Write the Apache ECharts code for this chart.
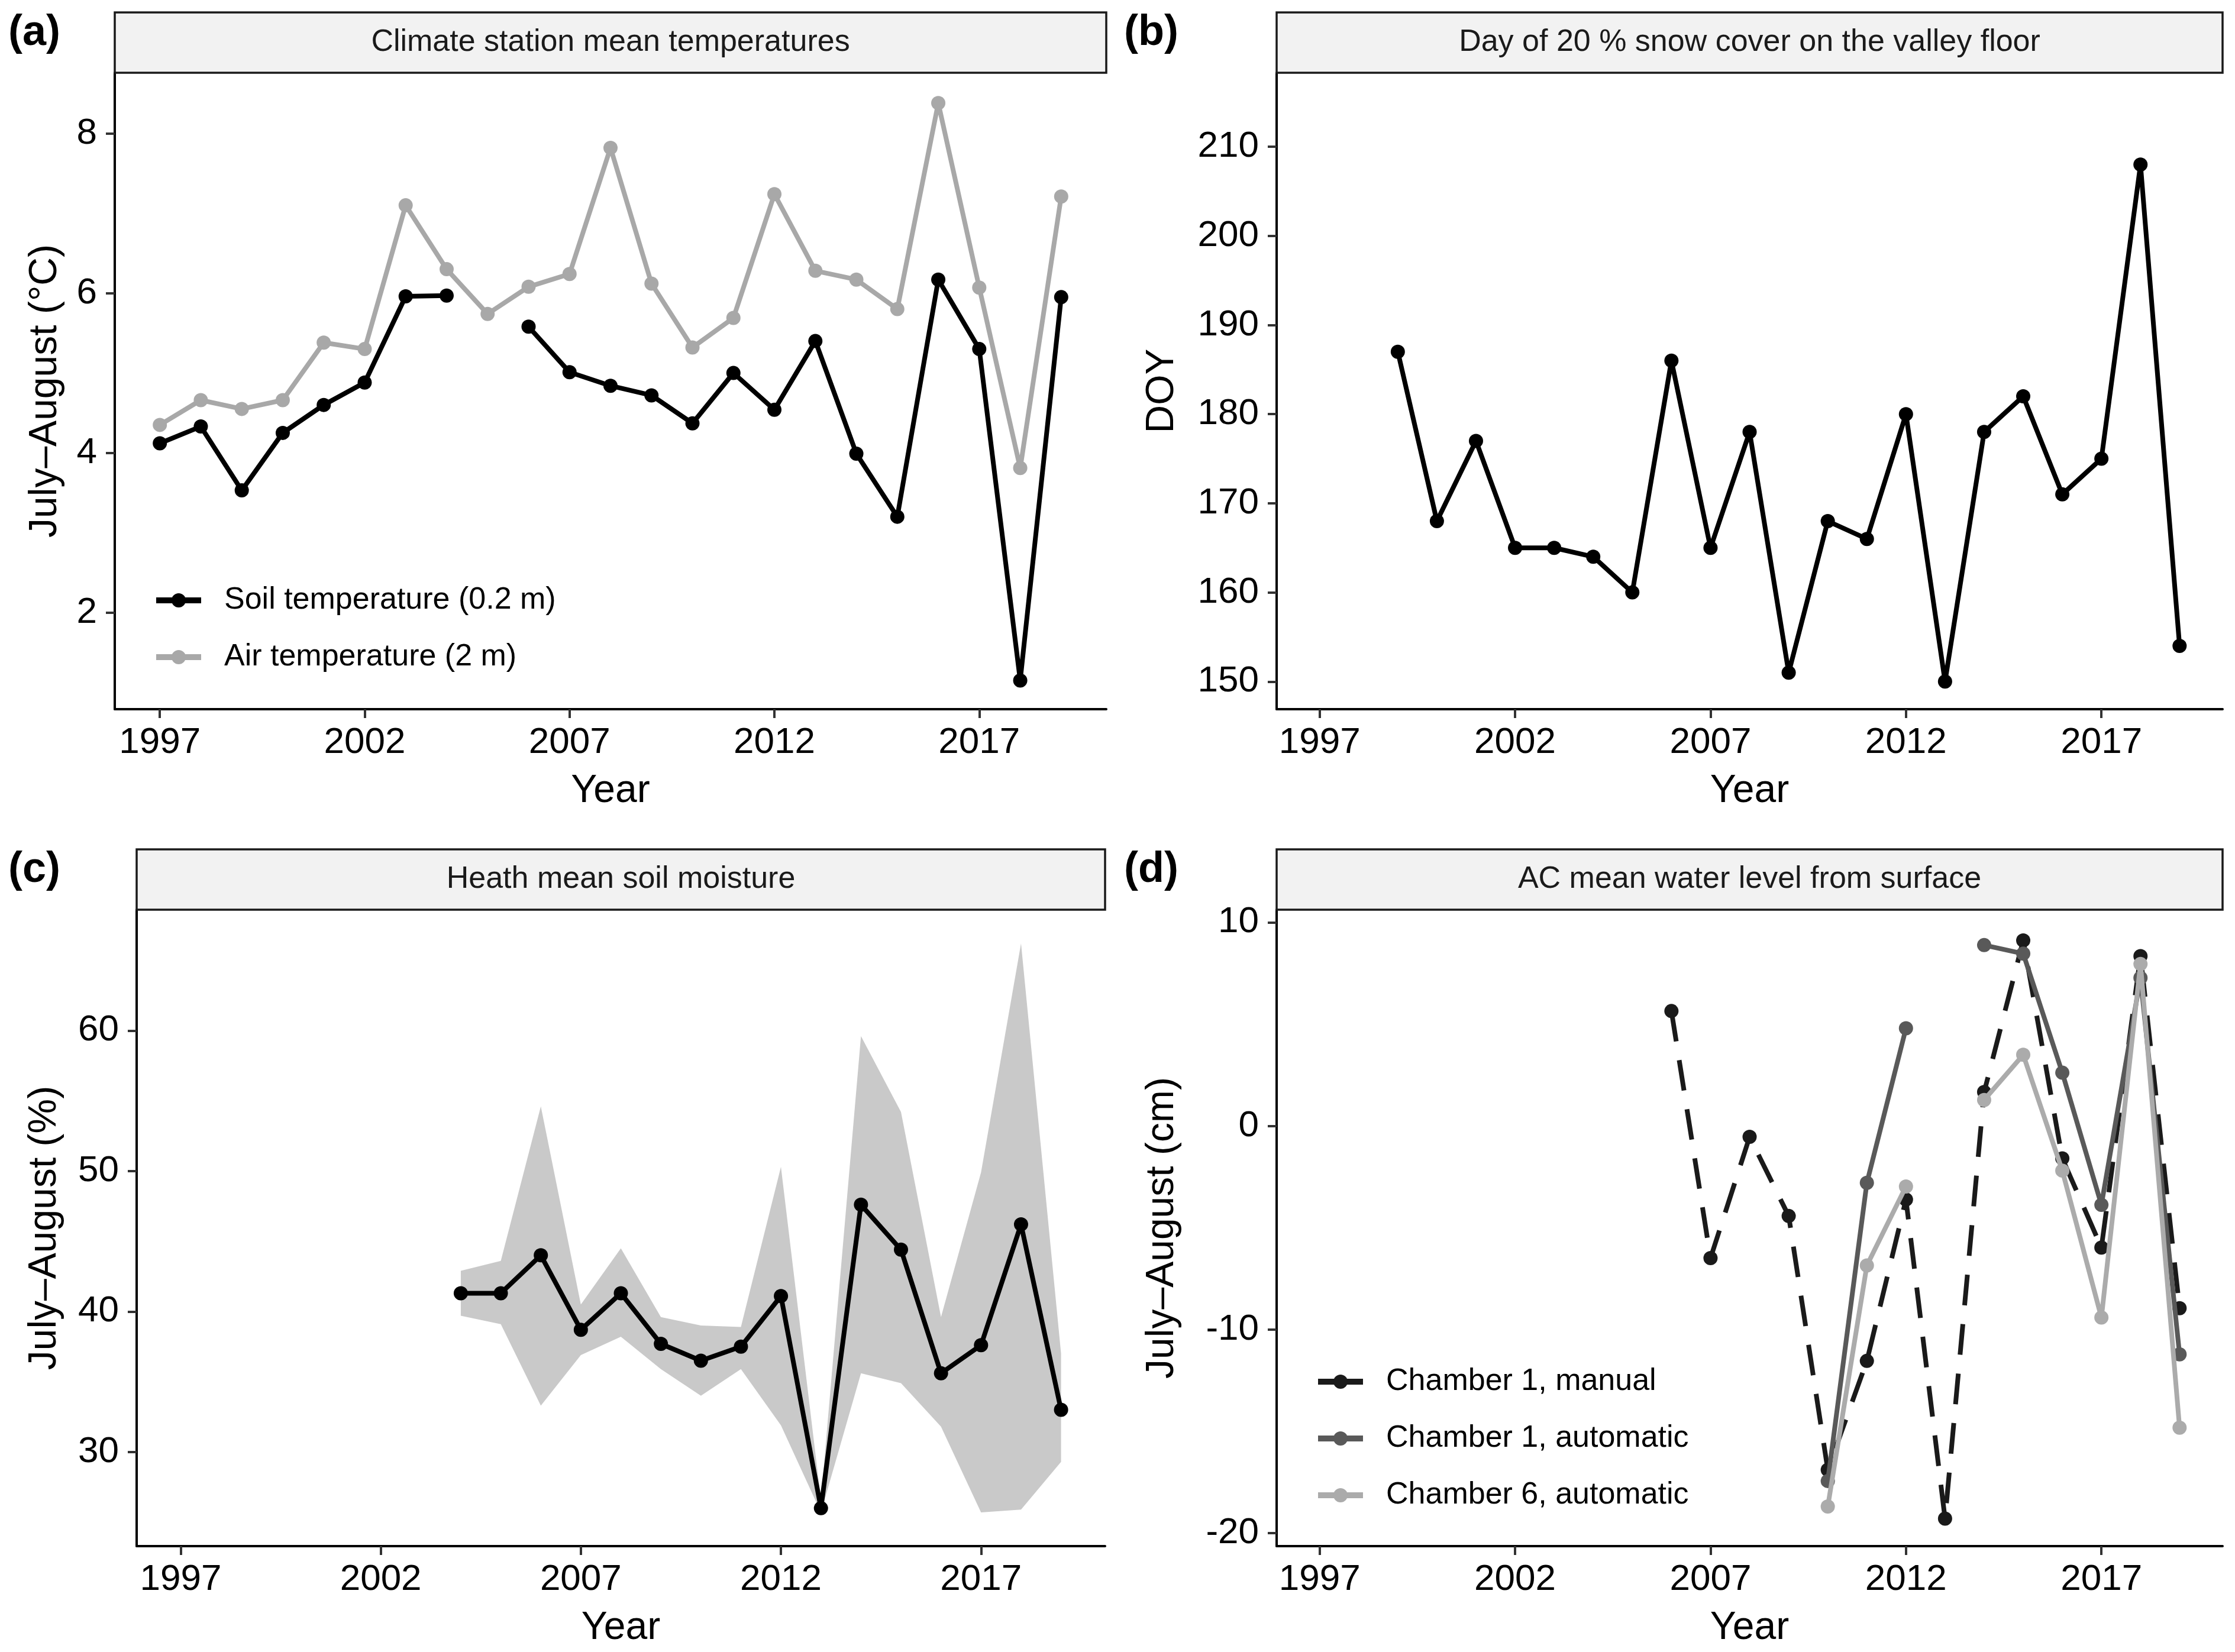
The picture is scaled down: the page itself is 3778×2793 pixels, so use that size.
<!DOCTYPE html>
<html><head><meta charset="utf-8">
<script src="https://cdn.jsdelivr.net/npm/echarts@6/dist/echarts.min.js"></script>
<style>html,body{margin:0;padding:0;background:#fff}#c{width:3778px;height:2793px}</style>
</head><body><div id="c"></div>
<script>
// ---------- data ----------
const years = [1997,1998,1999,2000,2001,2002,2003,2004,2005,2006,2007,2008,2009,2010,2011,2012,2013,2014,2015,2016,2017,2018,2019];
const soilTemp = [4.12,4.33,3.53,4.25,4.60,4.88,5.96,5.97,null,5.58,5.01,4.84,4.72,4.37,5.00,4.54,5.40,3.99,3.20,6.17,5.30,1.15,5.95];
const airTemp  = [4.35,4.66,4.55,4.66,5.38,5.30,7.10,6.30,5.74,6.08,6.24,7.82,6.12,5.32,5.69,7.24,6.28,6.17,5.80,8.38,6.07,3.81,7.21];

const snowYears = [1999,2000,2001,2002,2003,2004,2005,2006,2007,2008,2009,2010,2011,2012,2013,2014,2015,2016,2017,2018,2019];
const snowDOY   = [187,168,177,165,165,164,160,186,165,178,151,168,166,180,150,178,182,171,175,208,154];

const moistYears = [2004,2005,2006,2007,2008,2009,2010,2011,2012,2013,2014,2015,2016,2017,2018,2019];
const moistMean  = [41.3,41.3,44.0,38.7,41.3,37.7,36.5,37.5,41.1,26.0,47.6,44.4,35.6,37.6,46.2,33.0];
const moistLower = [39.7,39.1,33.3,36.9,38.2,35.9,34.0,35.9,31.9,25.7,35.6,34.9,31.8,25.7,25.9,29.3];
const moistUpper = [42.9,43.6,54.6,40.5,44.5,39.6,39.0,38.9,50.3,26.6,59.6,54.2,39.6,49.9,66.2,37.0];

const wlYears    = [2006,2007,2008,2009,2010,2011,2012,2013,2014,2015,2016,2017,2018,2019];
const ch1Manual  = [5.64,-6.50,-0.54,-4.43,-16.9,-11.55,-3.62,-19.3,1.66,9.11,-1.60,-5.98,8.34,-8.96];
const ch1Auto    = [null,null,null,null,-17.45,-2.80,4.79,null,8.88,8.46,2.61,-3.88,7.27,-11.23];
const ch6Auto    = [null,null,null,null,-18.7,-6.86,-2.98,null,1.27,3.49,-2.2,-9.42,7.95,-14.83];

const xTicks  = [1997,2002,2007,2012,2017];
const yTicksA = [2,4,6,8];
const yTicksB = [150,160,170,180,190,200,210];
const yTicksC = [30,40,50,60];
const yTicksD = [-20,-10,0,10];

const stripTitles = ['Climate station mean temperatures','Day of 20 % snow cover on the valley floor','Heath mean soil moisture','AC mean water level from surface'];
const panelTags = ['(a)','(b)','(c)','(d)'];
const yTitles = ['July\u2013August (\u00B0C)','DOY','July\u2013August (%)','July\u2013August (cm)'];

// ---------- layout ----------
const FONT = 'Liberation Sans, Arial, Helvetica, sans-serif';
const grids = [
  {left:194,  top:123,  width:1676, height:1076},
  {left:2158, top:123,  width:1599, height:1076},
  {left:231,  top:1538, width:1637, height:1076},
  {left:2158, top:1538, width:1599, height:1076}
];
const yRanges = [[0.79,8.76],[146.9,218.3],[23.3,68.6],[-20.65,10.62]];
const yTickSets = [yTicksA,yTicksB,yTicksC,yTicksD];
const yNameGaps = [84,160,122,160];
const stripH = 102;

const pairs = (xs, ys) => xs.map((x,i)=>[x, ys[i]==null ? '-' : ys[i]]);
const plain = v => String(v);

const xAxes = grids.map((g,i)=>({
  type:'value', gridIndex:i, min:1995.9, max:2020.1,
  name:'Year', nameLocation:'middle', nameGap:106,
  nameTextStyle:{fontSize:66, color:'#000', fontFamily:FONT},
  axisLine:{show:true, onZero:false, lineStyle:{color:'#000', width:4}},
  axisTick:{show:true, length:15, lineStyle:{color:'#333', width:4}, customValues:xTicks},
  axisLabel:{show:true, fontSize:62, color:'#000', fontFamily:FONT, margin:26, customValues:xTicks, formatter:plain},
  splitLine:{show:false}
}));
const yAxes = grids.map((g,i)=>({
  type:'value', gridIndex:i, min:yRanges[i][0], max:yRanges[i][1],
  name:yTitles[i], nameLocation:'middle', nameRotate:90, nameGap:yNameGaps[i],
  nameTextStyle:{fontSize:66, color:'#000', fontFamily:FONT},
  axisLine:{show:true, onZero:false, lineStyle:{color:'#000', width:4}},
  axisTick:{show:true, length:15, lineStyle:{color:'#333', width:4}, customValues:yTickSets[i]},
  axisLabel:{show:true, fontSize:62, color:'#000', fontFamily:FONT, margin:30, customValues:yTickSets[i], formatter:plain},
  splitLine:{show:false}
}));

function lineSeries(name, xi, data, color, dash, z){
  return {
    name, type:'line', xAxisIndex:xi, yAxisIndex:xi, data,
    connectNulls:false, symbol:'circle', symbolSize:24, showAllSymbol:true,
    lineStyle:{color, width:8, type: dash || 'solid'},
    itemStyle:{color}, z: z||3, animation:false
  };
}

const series = [
  lineSeries('Soil temperature (0.2 m)',0,pairs(years,soilTemp),'#000000',null,4),
  lineSeries('Air temperature (2 m)',0,pairs(years,airTemp),'#a8a8a8',null,3),
  lineSeries('DOY',1,pairs(snowYears,snowDOY),'#000000',null,3),
  {
    type:'custom', xAxisIndex:2, yAxisIndex:2, silent:true, z:1, animation:false,
    data: moistYears.map((x,i)=>[x, moistLower[i], moistUpper[i]]),
    renderItem: function(params, api){
      if (params.dataIndex !== 0) return null;
      const pts = [];
      for (let i=0;i<moistYears.length;i++) pts.push(api.coord([moistYears[i], moistUpper[i]]));
      for (let i=moistYears.length-1;i>=0;i--) pts.push(api.coord([moistYears[i], moistLower[i]]));
      return {type:'polygon', shape:{points:pts}, style:{fill:'#c9c9c9'}};
    }
  },
  lineSeries('Soil moisture',2,pairs(moistYears,moistMean),'#000000',null,3),
  lineSeries('Chamber 1, manual',3,pairs(wlYears,ch1Manual),'#1a1a1a',[52,32],3),
  lineSeries('Chamber 1, automatic',3,pairs(wlYears,ch1Auto),'#595959',null,4),
  lineSeries('Chamber 6, automatic',3,pairs(wlYears,ch6Auto),'#ababab',null,5)
];

const legendCommon = {
  orient:'vertical', itemWidth:76, itemHeight:30, itemGap:34,
  textStyle:{fontSize:52, color:'#000', fontFamily:FONT, lineHeight:62, padding:[0,0,0,34]},
  lineStyle:{type:'solid', width:10}, selectedMode:false
};
const legends = [
  Object.assign({}, legendCommon, {left:254, top:979, data:['Soil temperature (0.2 m)','Air temperature (2 m)']}),
  Object.assign({}, legendCommon, {left:2218, top:2300, data:['Chamber 1, manual','Chamber 1, automatic','Chamber 6, automatic']})
];

const graphic = [];
grids.forEach((g,i)=>{
  graphic.push({type:'rect', silent:true, z:10, shape:{x:g.left, y:g.top-stripH, width:g.width, height:stripH},
    style:{fill:'#f2f2f2', stroke:'#1a1a1a', lineWidth:3.5}});
  graphic.push({type:'text', silent:true, z:11, style:{text:stripTitles[i], x:g.left+g.width/2, y:g.top-stripH/2,
    textAlign:'center', textVerticalAlign:'middle', align:'center', verticalAlign:'middle',
    font:'52px '+FONT, fontSize:52, fontFamily:FONT, fill:'#1a1a1a'}});
});
const tagPos = [[14,56],[1900,56],[14,1471],[1900,1471]];
tagPos.forEach((p,i)=>{
  graphic.push({type:'text', silent:true, z:11, style:{text:panelTags[i], x:p[0], y:p[1],
    textAlign:'left', textVerticalAlign:'middle', align:'left', verticalAlign:'middle',
    font:'bold 72px '+FONT, fontSize:72, fontWeight:'bold', fontFamily:FONT, fill:'#000'}});
});

const chart = echarts.init(document.getElementById('c'), null, {renderer:'canvas'});
chart.setOption({
  backgroundColor:'#ffffff',
  animation:false,
  textStyle:{fontFamily:FONT},
  grid: grids.map(g=>Object.assign({containLabel:false}, g)),
  xAxis: xAxes, yAxis: yAxes,
  legend: legends,
  series, graphic
});
</script></body></html>
